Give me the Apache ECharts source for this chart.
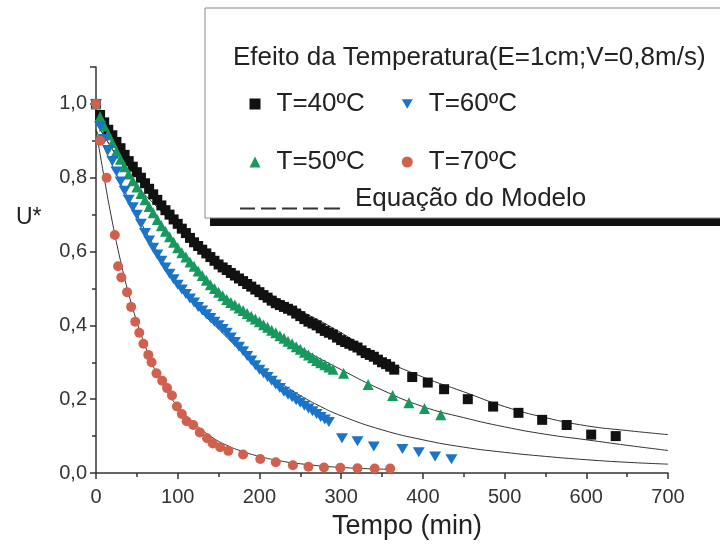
<!DOCTYPE html>
<html>
<head>
<meta charset="utf-8">
<script src="https://cdn.jsdelivr.net/npm/echarts@6/dist/echarts.min.js"></script>
<style>
  html, body { margin: 0; padding: 0; background: #fff; }
  #chart { width: 720px; height: 545px; }
</style>
</head>
<body>
<div id="chart"></div>
<script>
// Drying curves: dimensionless moisture U* versus time for four air temperatures
const FONT = '"Liberation Sans", Arial, sans-serif';

// T = 40 ºC (squares)
const t40 = [0, 5, 10, 15, 20, 25, 30, 35, 40, 45, 50, 55, 60, 65, 70, 75, 80, 85, 90, 95,
  100, 105, 110, 115, 120, 125, 130, 135, 140, 145, 150, 155, 160, 165, 170, 175, 180, 185, 190, 195,
  200, 205, 210, 215, 220, 225, 230, 235, 240, 245, 250, 255, 260, 265, 270, 275, 280, 285, 290, 295,
  300, 305, 310, 315, 320, 325, 330, 335, 340, 345, 350, 355, 360, 365,
  387, 406, 426, 455, 486, 517, 546, 576, 606, 636];
const u40 = [1.0, 0.97, 0.95, 0.93, 0.915, 0.897, 0.88, 0.862, 0.845, 0.83, 0.815, 0.80, 0.785, 0.77, 0.755, 0.74, 0.725, 0.712, 0.70, 0.687,
  0.675, 0.662, 0.65, 0.637, 0.625, 0.615, 0.605, 0.595, 0.585, 0.575, 0.565, 0.557, 0.55, 0.542, 0.535, 0.527, 0.52, 0.512, 0.505, 0.497,
  0.49, 0.482, 0.475, 0.467, 0.46, 0.455, 0.45, 0.445, 0.44, 0.432, 0.425, 0.417, 0.41, 0.405, 0.40, 0.392, 0.385, 0.38, 0.375, 0.367,
  0.36, 0.355, 0.35, 0.345, 0.34, 0.332, 0.325, 0.32, 0.315, 0.307, 0.30, 0.295, 0.288, 0.28,
  0.26, 0.245, 0.227, 0.20, 0.18, 0.163, 0.144, 0.13, 0.104, 0.10];

// T = 50 ºC (triangles)
const t50 = [0, 5, 10, 15, 20, 25, 30, 35, 40, 45, 50, 55, 60, 65, 70, 75, 80, 85, 90, 95,
  100, 105, 110, 115, 120, 125, 130, 135, 140, 145, 150, 155, 160, 165, 170, 175, 180, 185, 190, 195,
  200, 205, 210, 215, 220, 225, 230, 235, 240, 245, 250, 255, 260, 265, 270, 275, 280, 285, 290,
  303, 333, 363, 383, 402, 422];
const u50 = [1.0, 0.965, 0.94, 0.917, 0.895, 0.872, 0.85, 0.83, 0.81, 0.792, 0.775, 0.757, 0.74, 0.722, 0.705, 0.687, 0.67, 0.655, 0.64, 0.625,
  0.61, 0.597, 0.585, 0.572, 0.56, 0.547, 0.535, 0.522, 0.51, 0.50, 0.49, 0.48, 0.47, 0.462, 0.455, 0.447, 0.44, 0.432, 0.425, 0.417,
  0.41, 0.402, 0.395, 0.387, 0.38, 0.372, 0.365, 0.357, 0.35, 0.342, 0.335, 0.327, 0.32, 0.312, 0.305, 0.299, 0.293, 0.287, 0.281,
  0.27, 0.24, 0.21, 0.19, 0.175, 0.158];

// T = 60 ºC (inverted triangles)
const t60 = [0, 5, 10, 15, 20, 25, 30, 35, 40, 45, 50, 55, 60, 65, 70, 75, 80, 85, 90, 95,
  100, 105, 110, 115, 120, 125, 130, 135, 140, 145, 150, 155, 160, 165, 170, 175, 180, 185, 190, 195,
  200, 205, 210, 215, 220, 225, 230, 235, 240, 245, 250, 255, 260, 265, 270, 275, 280, 285,
  301, 320, 340, 375, 395, 415, 435];
const u60 = [1.0, 0.94, 0.905, 0.875, 0.845, 0.817, 0.79, 0.765, 0.74, 0.72, 0.70, 0.675, 0.65, 0.63, 0.61, 0.592, 0.575, 0.557, 0.54, 0.525,
  0.51, 0.497, 0.485, 0.473, 0.462, 0.45, 0.44, 0.43, 0.42, 0.41, 0.40, 0.39, 0.38, 0.367, 0.355, 0.342, 0.33, 0.317, 0.305, 0.292,
  0.28, 0.27, 0.26, 0.25, 0.24, 0.23, 0.22, 0.212, 0.205, 0.197, 0.19, 0.182, 0.175, 0.167, 0.16, 0.152, 0.145, 0.138,
  0.094, 0.086, 0.072, 0.065, 0.056, 0.045, 0.037];

// T = 70 ºC (circles)
const t70 = [0, 5, 13, 23, 27, 31, 38, 43, 48, 53, 58, 64, 68, 74, 81, 87, 93, 99, 105, 111, 119, 127, 136, 143, 152, 162,
  180, 201, 220, 241, 260, 279, 299, 320, 341, 360];
const u70 = [1.0, 0.90, 0.80, 0.645, 0.56, 0.53, 0.49, 0.45, 0.41, 0.38, 0.35, 0.32, 0.30, 0.27, 0.25, 0.23, 0.21, 0.18, 0.16, 0.14, 0.13, 0.11, 0.094, 0.08, 0.07, 0.06,
  0.05, 0.038, 0.029, 0.021, 0.017, 0.015, 0.014, 0.013, 0.012, 0.012];

// Model equation curves
const m40t = [0, 25, 50, 75, 100, 125, 150, 175, 200, 250, 300, 350, 400, 450, 500, 550, 600, 650, 700];
const m40u = [0.95, 0.86, 0.78, 0.72, 0.665, 0.615, 0.575, 0.535, 0.50, 0.44, 0.38, 0.31, 0.26, 0.22, 0.18, 0.15, 0.128, 0.115, 0.104];
const m50t = [0, 25, 50, 75, 100, 125, 150, 175, 200, 250, 300, 350, 400, 450, 500, 550, 600, 650, 700];
const m50u = [0.95, 0.86, 0.775, 0.69, 0.615, 0.55, 0.495, 0.45, 0.41, 0.34, 0.28, 0.225, 0.18, 0.15, 0.125, 0.105, 0.09, 0.075, 0.061];
const m60t = [0, 25, 50, 75, 100, 125, 150, 175, 200, 225, 250, 275, 300, 350, 400, 450, 500, 550, 600, 650, 700];
const m60u = [0.93, 0.81, 0.70, 0.60, 0.515, 0.445, 0.39, 0.335, 0.285, 0.245, 0.21, 0.18, 0.155, 0.117, 0.09, 0.07, 0.056, 0.045, 0.036, 0.029, 0.024];
const m70t = [0, 10, 20, 30, 40, 50, 60, 70, 80, 90, 100, 120, 140, 160, 180, 200, 225, 250, 300, 360];
const m70u = [0.93, 0.80, 0.68, 0.575, 0.485, 0.41, 0.345, 0.29, 0.245, 0.21, 0.18, 0.135, 0.10, 0.075, 0.058, 0.045, 0.033, 0.025, 0.015, 0.01];

const xTicks = [0, 100, 200, 300, 400, 500, 600, 700];

const zip = (a, b) => a.map((v, i) => [v, b[i]]);
const TRI_DOWN = 'path://M0,0L20,0L10,17Z';
const MODEL = 'Equação do Modelo';
const DASH_ICON = 'path://M0,0h0.01v0.01h-0.01z M0,20h15v2h-15z M21,20h15v2h-15z M42,20h15v2h-15z M63,20h15v2h-15z M84,20h16v2h-16z';

const comma = v => v.toFixed(1).replace('.', ',');

const modelLine = (t, u) => ({
  name: MODEL, type: 'line', data: zip(t, u), smooth: true, showSymbol: false, silent: true,
  lineStyle: { color: '#333', width: 1 }, itemStyle: { color: '#333' }, z: 3
});

const legendText = { fontFamily: FONT, fontSize: 26, color: '#222', lineHeight: 29, padding: [0, 0, 0, 11] };

const option = {
  animation: false,
  backgroundColor: '#fff',
  grid: { left: 96, right: 52, top: 67, bottom: 68, containLabel: false },
  xAxis: {
    type: 'value', min: 0, max: 700, interval: 100,
    name: 'Tempo (min)', nameLocation: 'middle', nameGap: 40,
    nameTextStyle: { fontFamily: FONT, fontSize: 27, color: '#222', padding: [0, 0, 0, 50] },
    axisLine: { lineStyle: { color: '#333', width: 1.5 } },
    axisTick: { length: 6, lineStyle: { color: '#333', width: 1.5 } },
    minorTick: { show: true, splitNumber: 2, length: 4, lineStyle: { color: '#333', width: 1.5 } },
    splitLine: { show: false },
    axisLabel: { fontFamily: FONT, fontSize: 20, color: '#333', margin: 14,
      formatter: v => xTicks.includes(v) ? String(v) : '' }
  },
  yAxis: {
    type: 'value', min: 0, max: 1.1, interval: 0.2,
    axisLine: { lineStyle: { color: '#333', width: 1.5 } },
    axisTick: { length: 6, lineStyle: { color: '#333', width: 1.5 } },
    minorTick: { show: true, splitNumber: 2, length: 4, lineStyle: { color: '#333', width: 1.5 } },
    splitLine: { show: false },
    axisLabel: { fontFamily: FONT, fontSize: 20, color: '#333', margin: 9,
      formatter: v => v > 1.05 ? '' : comma(v) }
  },
  legend: [
    { data: ['T=40ºC', 'T=60ºC'], left: 249.5, top: 89.5, padding: 0, itemGap: 37,
      itemWidth: 11, itemHeight: 11, selectedMode: false, textStyle: legendText, z: 10 },
    { data: ['T=50ºC', 'T=70ºC'], left: 249.5, top: 147.5, padding: 0, itemGap: 37,
      itemWidth: 11, itemHeight: 11, selectedMode: false, textStyle: legendText, z: 10 },
    { data: [{ name: MODEL, icon: DASH_ICON, itemStyle: { color: '#333' } }], left: 240, top: 184, padding: 0,
      itemWidth: 100, itemHeight: 22, selectedMode: false,
      textStyle: Object.assign({}, legendText, { padding: [0, 0, 0, 10] }), z: 10 }
  ],
  graphic: [
    { type: 'rect', z: 5, shape: { x: 210, y: 217, width: 520, height: 9 }, style: { fill: '#111' } },
    { type: 'rect', z: 6, shape: { x: 205, y: 8, width: 525, height: 210 },
      style: { fill: '#fff', stroke: '#888', lineWidth: 1 } },
    { type: 'text', z: 7, left: 233, top: 45,
      style: { text: 'Efeito da Temperatura(E=1cm;V=0,8m/s)', font: '26px ' + FONT, fill: '#222' } },
    { type: 'text', z: 7, left: 16, top: 206,
      style: { text: 'U*', font: '23px ' + FONT, fill: '#222' } }
  ],
  series: [
    modelLine(m40t, m40u), modelLine(m50t, m50u), modelLine(m60t, m60u), modelLine(m70t, m70u),
    { name: 'T=40ºC', type: 'scatter', data: zip(t40, u40), symbol: 'rect', symbolSize: 10,
      itemStyle: { color: '#111', opacity: 1 }, z: 4 },
    { name: 'T=50ºC', type: 'scatter', data: zip(t50, u50), symbol: 'triangle', symbolSize: 11,
      itemStyle: { color: '#17995e', opacity: 1 }, z: 4 },
    { name: 'T=60ºC', type: 'scatter', data: zip(t60, u60), symbol: TRI_DOWN, symbolSize: [12, 10],
      itemStyle: { color: '#1a74c8', opacity: 1 }, z: 4 },
    { name: 'T=70ºC', type: 'scatter', data: zip(t70, u70), symbol: 'circle', symbolSize: 10,
      itemStyle: { color: '#d1604f', opacity: 1 }, z: 4 }
  ]
};

const chart = echarts.init(document.getElementById('chart'), null, { renderer: 'canvas' });
chart.setOption(option);
</script>
</body>
</html>
